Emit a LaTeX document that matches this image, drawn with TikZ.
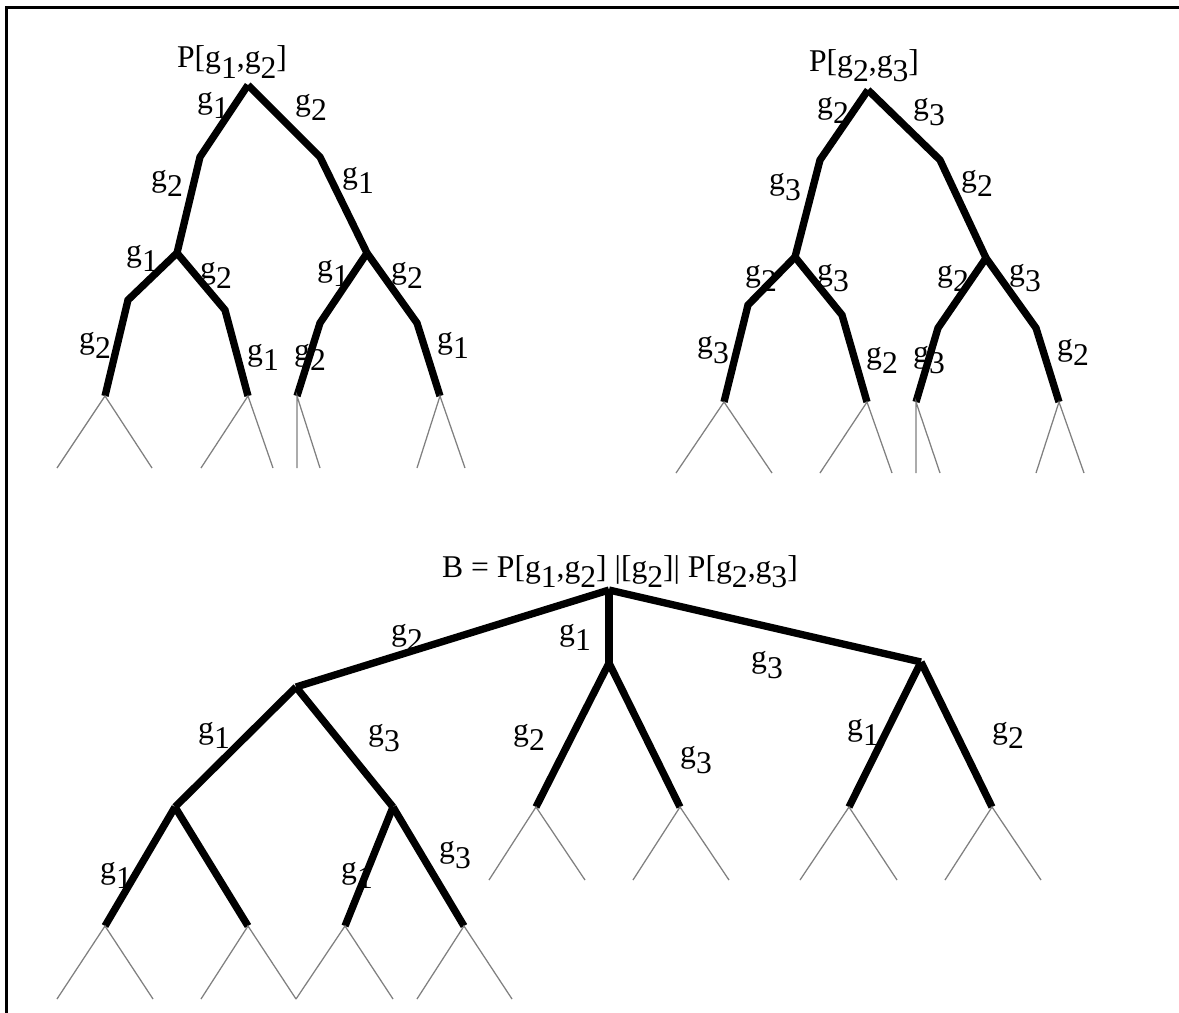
\documentclass[tikz,border=0pt]{standalone}
\usepackage{fontspec}
\setmainfont{Liberation Serif}
\newcommand{\gs}[1]{g\raisebox{-.32em}{#1}}

\begin{document}
\begin{tikzpicture}[x=0.025cm, y=-0.025cm, font=\fontsize{22.5}{24}\selectfont,
  br/.style={line width=5.2pt, line join=miter},
  leaf/.style={draw=black!50, line width=0.9pt},
  lbl/.style={inner sep=0pt},
  frame/.style={line width=2.2pt}]
\useasboundingbox (0,0) rectangle (1179,1013);
\draw[frame] (1179,7.5) -- (6.5,7.5) -- (6.5,1013);

% P[g1,g2]
\node[lbl] (ta) at (232,62) {P[\gs1,\gs2]};
\coordinate (ar) at (248,85);
\coordinate (aL) at (200,157); \coordinate (aR) at (320,157);
\coordinate (aLn) at (177,253); \coordinate (aRn) at (367,253);
\coordinate (aLLb) at (128,300); \coordinate (aLRb) at (225,310);
\coordinate (aRLb) at (320,323); \coordinate (aRRb) at (417,323);
\coordinate (a1) at (105,396); \coordinate (a2) at (248,396);
\coordinate (a3) at (297,396); \coordinate (a4) at (440,396);
\coordinate (a1l) at (57,468);  \coordinate (a1r) at (152,468);
\coordinate (a2l) at (201,468); \coordinate (a2r) at (273,468);
\coordinate (a3l) at (297,468); \coordinate (a3r) at (320,468);
\coordinate (a4l) at (417,468); \coordinate (a4r) at (465,468);
\draw[br] (ar) -- (aL) -- (aLn); \draw[br] (ar) -- (aR) -- (aRn);
\draw[br] (aLn) -- (aLLb) -- (a1); \draw[br] (aLn) -- (aLRb) -- (a2);
\draw[br] (aRn) -- (aRLb) -- (a3); \draw[br] (aRn) -- (aRRb) -- (a4);
\draw[leaf] (a1l) -- (a1) -- (a1r); \draw[leaf] (a2l) -- (a2) -- (a2r);
\draw[leaf] (a3l) -- (a3) -- (a3r); \draw[leaf] (a4l) -- (a4) -- (a4r);
\node[lbl] (la1) at (213,105) {\gs1}; \node[lbl] (la2) at (311,107) {\gs2};
\node[lbl] (la3) at (167,183) {\gs2}; \node[lbl] (la4) at (358,180) {\gs1};
\node[lbl] (la5) at (142,258) {\gs1}; \node[lbl] (la6) at (216,275) {\gs2};
\node[lbl] (la7) at (95,345)  {\gs2}; \node[lbl] (la8) at (263,357) {\gs1};
\node[lbl] (la9) at (333,273) {\gs1}; \node[lbl] (la10) at (407,275) {\gs2};
\node[lbl] (la11) at (310,357) {\gs2}; \node[lbl] (la12) at (453,345) {\gs1};

% P[g2,g3]
\node[lbl] (tb) at (864,66) {P[\gs2,\gs3]};
\coordinate (bR0) at (868,90);
\coordinate (bL) at (820,160); \coordinate (bR) at (940,160);
\coordinate (bLn) at (795,257); \coordinate (bRn) at (986,258);
\coordinate (bLLb) at (748,305); \coordinate (bLRb) at (842,315);
\coordinate (bRLb) at (938,328); \coordinate (bRRb) at (1036,328);
\coordinate (b1) at (724,402); \coordinate (b2) at (867,402);
\coordinate (b3) at (916,402); \coordinate (b4) at (1059,402);
\coordinate (b1l) at (676,473); \coordinate (b1r) at (772,473);
\coordinate (b2l) at (820,473); \coordinate (b2r) at (892,473);
\coordinate (b3l) at (916,473); \coordinate (b3r) at (940,473);
\coordinate (b4l) at (1036,473); \coordinate (b4r) at (1084,473);
\draw[br] (bR0) -- (bL) -- (bLn); \draw[br] (bR0) -- (bR) -- (bRn);
\draw[br] (bLn) -- (bLLb) -- (b1); \draw[br] (bLn) -- (bLRb) -- (b2);
\draw[br] (bRn) -- (bRLb) -- (b3); \draw[br] (bRn) -- (bRRb) -- (b4);
\draw[leaf] (b1l) -- (b1) -- (b1r); \draw[leaf] (b2l) -- (b2) -- (b2r);
\draw[leaf] (b3l) -- (b3) -- (b3r); \draw[leaf] (b4l) -- (b4) -- (b4r);
\node[lbl] (lb1) at (833,110) {\gs2}; \node[lbl] (lb2) at (929,112) {\gs3};
\node[lbl] (lb3) at (785,187) {\gs3}; \node[lbl] (lb4) at (977,183) {\gs2};
\node[lbl] (lb5) at (761,278) {\gs2}; \node[lbl] (lb6) at (833,278) {\gs3};
\node[lbl] (lb7) at (713,350) {\gs3}; \node[lbl] (lb8) at (882,360) {\gs2};
\node[lbl] (lb9) at (953,278) {\gs2}; \node[lbl] (lb10) at (1025,278) {\gs3};
\node[lbl] (lb11) at (929,360) {\gs3}; \node[lbl] (lb12) at (1073,352) {\gs2};

% B = P[g1,g2] |[g2]| P[g2,g3]
\node[lbl] (tc) at (620,572) {B = P[\gs1,\gs2] |[\gs2]| P[\gs2,\gs3]};
\coordinate (cr) at (609,590);
\coordinate (cA) at (296,687); \coordinate (cB) at (609,663); \coordinate (cC) at (921,662);
\coordinate (cA1) at (175,807); \coordinate (cA2) at (393,807);
\coordinate (c1) at (105,926); \coordinate (c2) at (248,926);
\coordinate (c3) at (345,926); \coordinate (c4) at (464,926);
\coordinate (cB1) at (536,807); \coordinate (cB2) at (680,807);
\coordinate (cC1) at (849,807); \coordinate (cC2) at (992,807);
\coordinate (c1l) at (57,999);  \coordinate (c1r) at (153,999);
\coordinate (c2l) at (201,999); \coordinate (c2r) at (296,999);
\coordinate (c3l) at (296,999); \coordinate (c3r) at (393,999);
\coordinate (c4l) at (417,999); \coordinate (c4r) at (512,999);
\coordinate (cB1l) at (489,880); \coordinate (cB1r) at (585,880);
\coordinate (cB2l) at (633,880); \coordinate (cB2r) at (729,880);
\coordinate (cC1l) at (800,880); \coordinate (cC1r) at (897,880);
\coordinate (cC2l) at (945,880); \coordinate (cC2r) at (1041,880);
\draw[br] (cr) -- (cA); \draw[br] (cr) -- (cB); \draw[br] (cr) -- (cC);
\draw[br] (cA) -- (cA1); \draw[br] (cA) -- (cA2);
\draw[br] (cA1) -- (c1); \draw[br] (cA1) -- (c2);
\draw[br] (cA2) -- (c3); \draw[br] (cA2) -- (c4);
\draw[br] (cB) -- (cB1); \draw[br] (cB) -- (cB2);
\draw[br] (cC) -- (cC1); \draw[br] (cC) -- (cC2);
\draw[leaf] (c1l) -- (c1) -- (c1r); \draw[leaf] (c2l) -- (c2) -- (c2r);
\draw[leaf] (c3l) -- (c3) -- (c3r); \draw[leaf] (c4l) -- (c4) -- (c4r);
\draw[leaf] (cB1l) -- (cB1) -- (cB1r); \draw[leaf] (cB2l) -- (cB2) -- (cB2r);
\draw[leaf] (cC1l) -- (cC1) -- (cC1r); \draw[leaf] (cC2l) -- (cC2) -- (cC2r);
\node[lbl] (lc1) at (407,637) {\gs2}; \node[lbl] (lc2) at (575,637) {\gs1};
\node[lbl] (lc3) at (767,665) {\gs3};
\node[lbl] (lc4) at (214,735) {\gs1}; \node[lbl] (lc5) at (384,738) {\gs3};
\node[lbl] (lc6) at (529,737) {\gs2}; \node[lbl] (lc7) at (696,760) {\gs3};
\node[lbl] (lc8) at (863,732) {\gs1}; \node[lbl] (lc9) at (1008,735) {\gs2};
\node[lbl] (lc10) at (116,875) {\gs1}; \node[lbl] (lc11) at (357,875) {\gs1};
\node[lbl] (lc12) at (455,855) {\gs3};
\end{tikzpicture}
\end{document}
